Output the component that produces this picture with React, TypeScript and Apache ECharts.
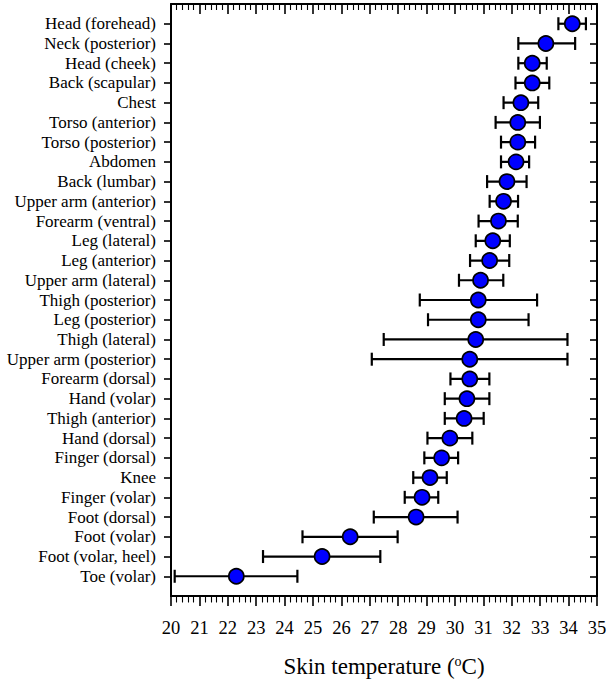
import React, { useEffect, useRef } from "react";
import * as echarts from "echarts";

const categories = [
  "Head (forehead)", "Neck (posterior)", "Head (cheek)", "Back (scapular)", "Chest",
  "Torso (anterior)", "Torso (posterior)", "Abdomen", "Back (lumbar)", "Upper arm (anterior)",
  "Forearm (ventral)", "Leg (lateral)", "Leg (anterior)", "Upper arm (lateral)", "Thigh (posterior)",
  "Leg (posterior)", "Thigh (lateral)", "Upper arm (posterior)", "Forearm (dorsal)", "Hand (volar)",
  "Thigh (anterior)", "Hand (dorsal)", "Finger (dorsal)", "Knee", "Finger (volar)",
  "Foot (dorsal)", "Foot (volar)", "Foot (volar, heel)", "Toe (volar)",
];
const means = [
  34.13, 33.2, 32.72, 32.72, 32.32, 32.21, 32.21, 32.15, 31.83, 31.71,
  31.53, 31.33, 31.22, 30.9, 30.82, 30.82, 30.73, 30.52, 30.52, 30.42,
  30.32, 29.82, 29.53, 29.12, 28.84, 28.63, 26.31, 25.32, 22.3,
];
const lows = [
  33.64, 32.23, 32.23, 32.13, 31.71, 31.43, 31.62, 31.62, 31.13, 31.22,
  30.83, 30.73, 30.53, 30.14, 28.76, 29.05, 27.49, 27.07, 29.84, 29.64,
  29.64, 29.03, 28.92, 28.53, 28.23, 27.14, 24.63, 23.24, 20.13,
];
const highs = [
  34.61, 34.23, 33.23, 33.32, 32.93, 32.99, 32.82, 32.61, 32.52, 32.22,
  32.21, 31.93, 31.91, 31.7, 32.89, 32.59, 33.96, 33.96, 31.21, 31.21,
  31.01, 30.61, 30.11, 29.71, 29.41, 30.09, 27.98, 27.37, 24.45,
];
const xMin = 20;
const xMax = 35;

const FONT = "'Liberation Serif', 'Times New Roman', 'DejaVu Serif', serif";

export default function App() {
  const ref = useRef<HTMLDivElement>(null);
  useEffect(() => {
    if (!ref.current) return;
    const chart = echarts.init(ref.current, null, { renderer: "svg" });
    const yCats = ["", ...categories, ""];
    const tickFilter = (_i: number, v: string) => v !== "";
    const lineStyle = { color: "#000", width: 2 };
    const xBase = {
      type: "value" as const,
      min: xMin,
      max: xMax,
      interval: 1,
      splitLine: { show: false },
      minorSplitLine: { show: false },
      axisLine: { show: true, onZero: false, lineStyle },
    };
    const yBase = {
      type: "category" as const,
      data: yCats,
      inverse: true,
      boundaryGap: false,
      splitLine: { show: false },
      axisLine: { show: true, onZero: false, lineStyle },
    };
    chart.setOption({
      animation: false,
      backgroundColor: "#fff",
      textStyle: { fontFamily: FONT },
      grid: { left: 171, right: 13, top: 4, bottom: 89, containLabel: false },
      xAxis: [
        {
          ...xBase,
          position: "bottom",
          axisTick: { show: true, inside: false, length: 10, lineStyle: { color: "#000", width: 1.6 } },
          minorTick: { show: true, splitNumber: 5, length: 6.5, lineStyle: { color: "#000", width: 1.1 } },
          axisLabel: { show: true, margin: 22, color: "#000", fontFamily: FONT, fontSize: 18.5 },
          name: "{a|Skin temperature (}{s|o}{a|C)}",
          nameLocation: "middle",
          nameGap: 58,
          nameTextStyle: {
            fontFamily: FONT,
            rich: {
              a: { fontFamily: FONT, fontSize: 23, color: "#000" },
              s: { fontFamily: FONT, fontSize: 14, color: "#000", verticalAlign: "top", padding: [0, 0, 10, 0] },
            },
          },
        },
        {
          ...xBase,
          position: "top",
          axisTick: { show: true, inside: true, length: 10, lineStyle: { color: "#000", width: 1.6 } },
          minorTick: { show: true, splitNumber: 5, length: 6, lineStyle: { color: "#000", width: 1.1 } },
          axisLabel: { show: false },
        },
      ],
      yAxis: [
        {
          ...yBase,
          position: "left",
          axisTick: { show: true, inside: false, length: 7, interval: tickFilter, lineStyle: { color: "#000", width: 1.6 } },
          axisLabel: { show: true, interval: 0, margin: 15, color: "#000", fontFamily: FONT, fontSize: 17 },
        },
        {
          ...yBase,
          position: "right",
          axisTick: { show: true, inside: true, length: 7, interval: tickFilter, lineStyle: { color: "#000", width: 1.6 } },
          axisLabel: { show: false },
        },
      ],
      series: [
        {
          type: "custom",
          xAxisIndex: 0,
          yAxisIndex: 0,
          z: 2,
          encode: { x: [0, 1], y: 2 },
          data: categories.map((_c, i) => [lows[i], highs[i], i + 1]),
          renderItem: (_params: any, api: any) => {
            const y = api.value(2);
            const lo = api.coord([api.value(0), y]);
            const hi = api.coord([api.value(1), y]);
            const h = 6.5;
            const st = { stroke: "#000", lineWidth: 2.2 };
            return {
              type: "group",
              children: [
                { type: "line", shape: { x1: lo[0], y1: lo[1], x2: hi[0], y2: hi[1] }, style: st },
                { type: "line", shape: { x1: lo[0], y1: lo[1] - h, x2: lo[0], y2: lo[1] + h }, style: st },
                { type: "line", shape: { x1: hi[0], y1: hi[1] - h, x2: hi[0], y2: hi[1] + h }, style: st },
              ],
            };
          },
        },
        {
          type: "scatter",
          xAxisIndex: 0,
          yAxisIndex: 0,
          z: 5,
          symbol: "circle",
          symbolSize: 15,
          itemStyle: { color: "#0000ff", borderColor: "#000", borderWidth: 1.7, opacity: 1 },
          data: categories.map((_c, i) => [means[i], i + 1]),
        },
      ],
    });
    return () => chart.dispose();
  }, []);
  return (
    <div
      ref={ref}
      style={{ position: "fixed", left: 0, top: 0, width: 610, height: 685 }}
    />
  );
}
